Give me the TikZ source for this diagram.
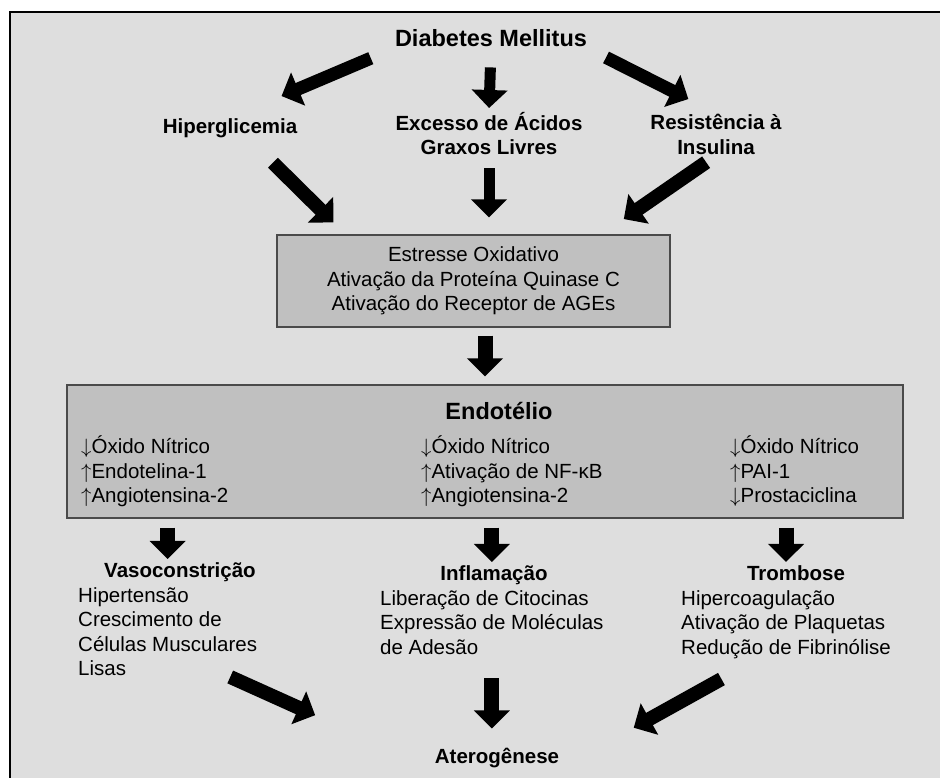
\documentclass[tikz,border=0pt]{standalone}
\usepackage{fontspec}
\setmainfont{Liberation Sans}
\usetikzlibrary{arrows.meta}
\definecolor{panel}{HTML}{DEDEDE}
\definecolor{boxgray}{HTML}{C0C0C0}
\definecolor{edgegray}{HTML}{4A4A4A}
\newcommand{\txt}{\fontsize{20.5pt}{24.5pt}\selectfont}
\newcommand{\dmfont}{\fontsize{23.5pt}{28pt}\selectfont}
\newcommand{\decr}{$\downarrow$}
\newcommand{\incr}{$\uparrow$}
\begin{document}
\begin{tikzpicture}[x=1pt, y=-1pt,
  term/.style={font=\txt\bfseries, inner sep=1pt},
  item/.style={font=\txt, inner sep=1pt, align=left},
  mech/.style={draw=edgegray, fill=boxgray, line width=1.2pt},
  fat/.style={line width=15pt, -{Triangle[width=35pt,length=18pt]}}
]
\useasboundingbox (0,0) rectangle (940,778);
\clip (0,0) rectangle (940,778);
\fill[white] (0,0) rectangle (940,778);
\draw[fill=panel, line width=1.5pt] (10,12) rectangle (960,800);
\node[term, font=\dmfont\bfseries, anchor=base] (dm) at (491,47) {Diabetes Mellitus};
\node[term, anchor=base] (hip) at (230,134) {Hiperglicemia};
\node[term, anchor=north, align=center] (agl) at (489,111) {Excesso de Ácidos\\Graxos Livres};
\node[term, anchor=north, align=center] (ri) at (716,113) {Resistência à\\Insulina};
\node[mech, font=\txt, align=center, minimum width=393pt, minimum height=92pt] (est) at (473.5,281) {Estresse Oxidativo\\Ativação da Proteína Quinase C\\Ativação do Receptor de AGEs};
\node[mech, minimum width=836pt, minimum height=133pt] (endo) at (485,451.5) {};
\node[term, font=\dmfont\bfseries, anchor=base] (endot) at (499,419) {Endotélio};
\node[item, anchor=north west] (colvaso) at (80,435) {\decr Óxido Nítrico\\\incr Endotelina-1\\\incr Angiotensina-2};
\node[item, anchor=north west] (colinfl) at (420,435) {\decr Óxido Nítrico\\\incr Ativação de NF-κB\\\incr Angiotensina-2};
\node[item, anchor=north west] (coltrom) at (729,435) {\decr Óxido Nítrico\\\incr PAI-1\\\decr Prostaciclina};
\node[term, anchor=base] (vaso) at (180,577) {Vasoconstrição};
\node[item, anchor=north west] (vasol) at (77,586) {Hipertensão\\Crescimento de\\Células Musculares\\Lisas};
\node[term, anchor=base] (infl) at (494,580) {Inflamação};
\node[item, anchor=north west] (infll) at (379,589) {Liberação de Citocinas\\Expressão de Moléculas\\de Adesão};
\node[term, anchor=base] (trom) at (796,580) {Trombose};
\node[item, anchor=north west] (troml) at (680,589) {Hipercoagulação\\Ativação de Plaquetas\\Redução de Fibrinólise};
\node[term, anchor=base] (ater) at (497,763) {Aterogênese};
\draw[fat, line width=13pt, shorten <=25pt, shorten >=56pt] (dm.south west) -- (hip.north);
\draw[fat, line width=11pt, shorten <=19pt, shorten >=3pt] (dm.south) -- (agl.north);
\draw[fat, line width=13pt, shorten <=20pt, shorten >=31pt] (dm.south east) -- (ri.north);
\draw[fat, line width=14pt, shorten <=33pt, shorten >=17pt] (hip.-29) -- (est.160);
\draw[fat, line width=11pt, shorten <=12pt, shorten >=17pt] (agl.south) -- (agl.south |- est.north);
\draw[fat, line width=14pt, shorten <=12pt, shorten >=27pt] (ri.south) -- (est.20);
\draw[fat, shorten <=8pt, shorten >=8pt] (endo.north |- est.south) -- (endo.north);
\foreach \t/\l in {vaso/vasol, infl/infll, trom/troml}
  \draw[fat, shorten <=9pt, shorten >=2pt] (\l.north |- endo.south) -- (\l.north |- \t.north);
\draw[fat, line width=14pt, shorten >=130pt] (vasol.-36) -- (ater.south west);
\draw[fat, shorten <=23pt, shorten >=18pt] (infll.south) -- (infll.south |- ater.north);
\draw[fat, line width=14pt, shorten <=40pt, shorten >=84pt] (troml.230) -- (ater.south east);
\end{tikzpicture}
\end{document}
